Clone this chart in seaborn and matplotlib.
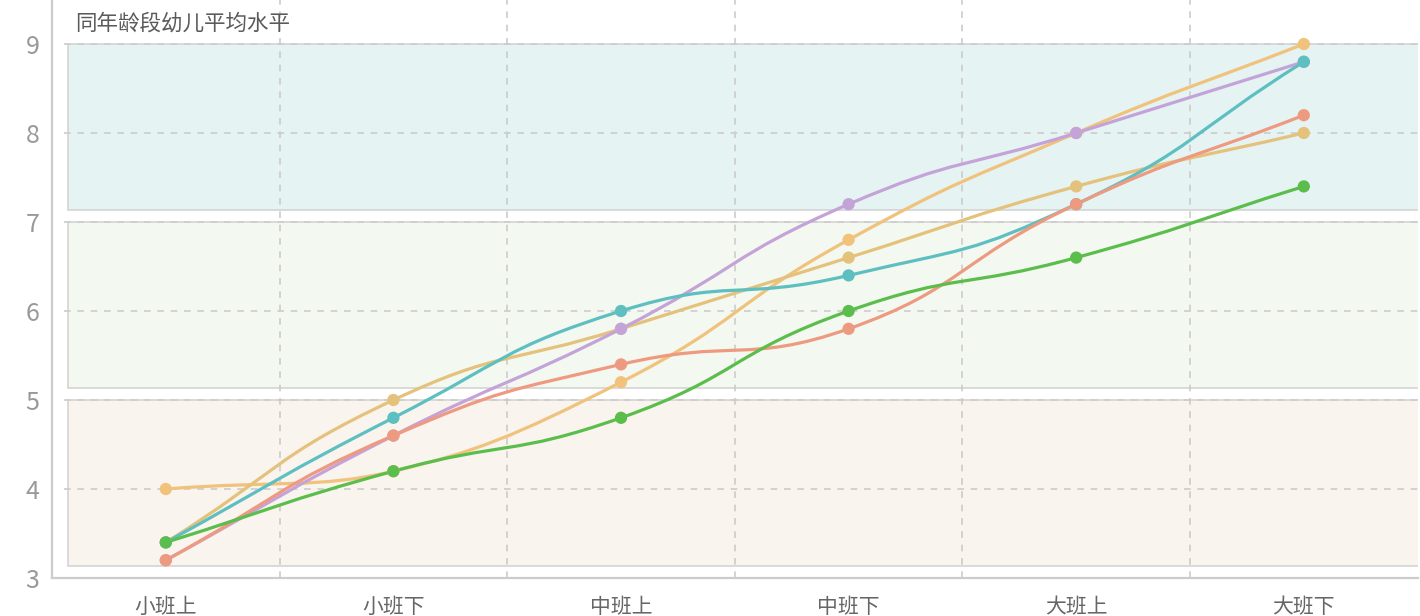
import numpy as np
import pandas as pd
import matplotlib
matplotlib.use('Agg')
import matplotlib.pyplot as plt
import seaborn as sns
from matplotlib.path import Path
from matplotlib.patches import PathPatch, Rectangle

categories = ['小班上', '小班下', '中班上', '中班下', '大班上', '大班下']
series_a = [4.0, 4.2, 5.2, 6.8, 8.0, 9.0]
series_b = [3.4, 5.0, 5.8, 6.6, 7.4, 8.0]
series_purple = [3.2, 4.6, 5.8, 7.2, 8.0, 8.8]
series_teal = [3.4, 4.8, 6.0, 6.4, 7.2, 8.8]
series_salmon = [3.2, 4.6, 5.4, 5.8, 7.2, 8.2]
series_green = [3.4, 4.2, 4.8, 6.0, 6.6, 7.4]
band_top = [9, 7, 5]
band_bottom = [7.14, 5.14, 3.14]
title = '同年龄段幼儿平均水平'

names = ['A', 'B', 'P', 'T', 'S', 'G']
values = [series_a, series_b, series_purple, series_teal, series_salmon, series_green]
colors = {'A': '#f0c27c', 'B': '#e4c27c', 'P': '#c4a3d8', 'T': '#5ebfc1',
          'S': '#ee9a80', 'G': '#5bbd4b'}
band_colors = ['#e5f3f3', '#f3f8f0', '#f9f4ee']

rows = []
for n, vals in zip(names, values):
    for i, v in enumerate(vals):
        rows.append({'series': n, 'x': i, 'y': v})
df = pd.DataFrame(rows)

sns.set_theme(style='white')
plt.rcParams['font.family'] = ['Noto Sans CJK SC', 'DejaVu Sans']

W, H = 1420, 616
fig = plt.figure(figsize=(W / 100, H / 100), dpi=100)
ax = fig.add_axes([52 / W, 38 / H, (1417.6 - 52) / W, 578 / H])
ax.set_xlim(-0.5, 5.5)
ax.set_ylim(3, 3 + 578 / 89)

# background bands
for lo, hi, c in zip(band_bottom, band_top, band_colors):
    ax.add_patch(Rectangle((-0.43, lo), 6.0, hi - lo, facecolor=c,
                           edgecolor='#d4d4d4', lw=1.2, zorder=0))

# grid
for yv in range(4, 10):
    ax.axhline(yv, xmin=12 / 1365, color='#cccccc', lw=1.2, ls=(0, (4, 4)), zorder=0.5)
for xv in np.arange(0.5, 5, 1.0):
    ax.axvline(xv, color='#cccccc', lw=1.2, ls=(0, (4, 4)), zorder=0.5)


def smooth_curve(xs, ys, smooth=0.5):
    pts = ax.transData.transform(np.column_stack([xs, ys]))
    n = len(pts)
    cin, cout = [], []
    for i in range(n):
        p = pts[i]
        prev = pts[i - 1] if i > 0 else p
        nxt = pts[i + 1] if i < n - 1 else p
        v = (nxt - prev) * smooth
        d0 = np.hypot(*(p - prev))
        d1 = np.hypot(*(nxt - p))
        r = d1 / (d0 + d1) if d0 + d1 else 0
        co = v * r
        ci = -v * (1 - r)
        k = 1.0
        for off, q in ((co, nxt), (ci, prev)):
            lim = q[1] - p[1]
            if off[1] != 0:
                if lim == 0 or np.sign(lim) != np.sign(off[1]):
                    k = 0.0
                elif abs(off[1]) > abs(lim):
                    k = min(k, abs(lim) / abs(off[1]))
        cout.append(p + co * k)
        cin.append(p + ci * k)
    verts = [pts[0]]
    codes = [Path.MOVETO]
    for i in range(n - 1):
        verts += [cout[i], cin[i + 1], pts[i + 1]]
        codes += [Path.CURVE4] * 3
    verts = ax.transData.inverted().transform(np.array(verts))
    return Path(verts, codes)


for z, n in enumerate(names):
    sub = df[df['series'] == n]
    path = smooth_curve(sub['x'].values, sub['y'].values)
    ax.add_patch(PathPatch(path, facecolor='none', edgecolor=colors[n],
                           lw=2.3, zorder=2 + z * 0.1, capstyle='round'))

sns.scatterplot(data=df, x='x', y='y', hue='series', palette=colors, s=78,
                edgecolor='none', legend=False, ax=ax, zorder=3)

ax.set_xlabel('')
ax.set_ylabel('')
ax.set_xticks(range(len(categories)))
ax.set_xticklabels(categories)
ax.set_yticks(range(3, 10))
ax.tick_params(axis='x', colors='#cccccc', labelcolor='#666666', labelsize=15,
               direction='out', length=5, width=1.2, pad=8)
ax.tick_params(axis='y', colors='#cccccc', labelcolor='#999999', labelsize=18,
               direction='inout', length=14, width=1.2, pad=2)
for s in ['top', 'right']:
    ax.spines[s].set_visible(False)
for s in ['left', 'bottom']:
    ax.spines[s].set_color('#cccccc')
    ax.spines[s].set_linewidth(1.6)

fig.text(75 / W, 1 - 24 / H, title, color='#5a5a5a', fontsize=15.5,
         fontweight='medium', va='center', ha='left')

fig.savefig('out.png', dpi=100)
